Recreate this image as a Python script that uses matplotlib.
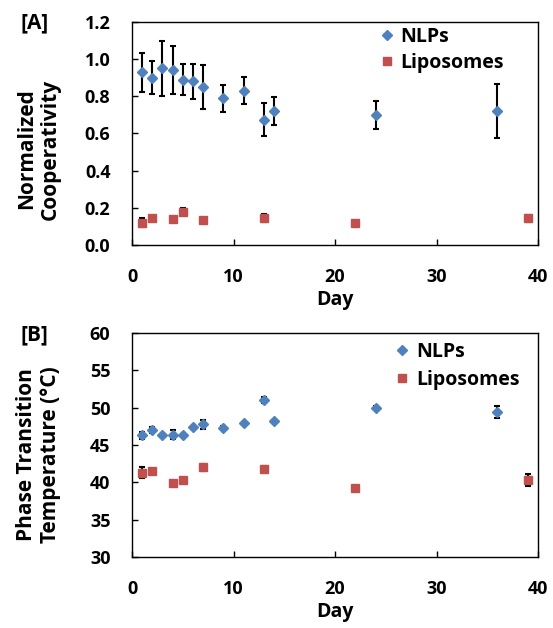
import numpy as np
import matplotlib
matplotlib.use('Agg')
import matplotlib.pyplot as plt
from matplotlib.ticker import FormatStrFormatter

plt.rcParams['font.family'] = ['Open Sans', 'DejaVu Sans']
plt.rcParams['font.weight'] = 'bold'

# panel A: normalized cooperativity
nlp_days_a = [1, 2, 3, 4, 5, 6, 7, 9, 11, 13, 14, 24, 36]
nlp_coop = [0.93, 0.90, 0.95, 0.94, 0.89, 0.88, 0.85, 0.79, 0.83, 0.675, 0.72, 0.70, 0.72]
nlp_coop_err = [0.105, 0.09, 0.15, 0.13, 0.085, 0.096, 0.117, 0.072, 0.072, 0.087, 0.074, 0.074, 0.144]
lip_days = [1, 2, 4, 5, 7, 13, 22, 39]
lip_coop = [0.12, 0.146, 0.138, 0.18, 0.134, 0.145, 0.118, 0.143]
lip_coop_err = [0.025, 0.01, 0.006, 0.02, 0.01, 0.02, 0.006, 0.02]

# panel B: phase transition temperature
nlp_days_b = [1, 2, 3, 4, 5, 6, 7, 9, 11, 13, 14, 24, 36]
nlp_temp = [46.3, 47.0, 46.3, 46.4, 46.3, 47.4, 47.8, 47.3, 47.9, 51.05, 48.2, 50.0, 49.45]
nlp_temp_err = [0.5, 0.4, 0.2, 0.6, 0.2, 0.2, 0.6, 0.2, 0.2, 0.4, 0.2, 0.2, 0.8]
lip_temp = [41.3, 41.55, 39.95, 40.25, 42.0, 41.75, 39.25, 40.3]
lip_temp_err = [0.7, 0.2, 0.2, 0.2, 0.5, 0.4, 0.3, 0.8]

blue = '#4F81BD'
red = '#C0504D'

fig = plt.figure(figsize=(5.53, 6.28), dpi=100)
axA = fig.add_axes([0.2387, 0.6099, 0.7342, 0.3551])
axB = fig.add_axes([0.2387, 0.1131, 0.7342, 0.3567])


def draw(ax, x1, y1, e1, x2, y2, e2, leg_pos, leg_sp):
    ax.errorbar(x1, y1, yerr=e1, fmt='D', color=blue, ms=5, mec=blue,
                ecolor='black', elinewidth=1.5, capsize=2, capthick=1.5, label='NLPs', zorder=3)
    ax.errorbar(x2, y2, yerr=e2, fmt='s', color=red, ms=6, mec=red,
                ecolor='black', elinewidth=1.5, capsize=2, capthick=1.5, label='Liposomes', zorder=3)
    ax.set_xlim(0, 40)
    ax.set_xticks([0, 10, 20, 30, 40])
    ax.tick_params(direction='in', length=4, width=1, labelsize=13)
    ax.tick_params(axis='y', pad=15.5)
    ax.tick_params(axis='x', pad=16.5)
    for s in ax.spines.values():
        s.set_linewidth(1.0)
    ax.set_xlabel('Day', fontsize=14, fontweight='bold', labelpad=3)
    handles, labels = ax.get_legend_handles_labels()
    handles = [h[0] for h in handles]
    ax.legend(handles, labels, loc='upper left', bbox_to_anchor=leg_pos, frameon=False,
              fontsize=14, handletextpad=0.3, handlelength=0.8, labelspacing=leg_sp,
              borderpad=0, borderaxespad=0)


draw(axA, nlp_days_a, nlp_coop, nlp_coop_err, lip_days, lip_coop, lip_coop_err, (0.608, 0.977), 0.3)
axA.set_ylim(0, 1.2)
axA.set_yticks(np.arange(0, 1.21, 0.2))
axA.yaxis.set_major_formatter(FormatStrFormatter('%.1f'))
axA.set_ylabel('Normalized\nCooperativity', fontsize=15, fontweight='bold', linespacing=1.2)
axA.yaxis.set_label_coords(-0.175, 0.43)

draw(axB, nlp_days_b, nlp_temp, nlp_temp_err, lip_days, lip_temp, lip_temp_err, (0.647, 0.96), 0.4)
axB.set_ylim(30, 60)
axB.set_yticks(range(30, 61, 5))
axB.set_ylabel('Phase Transition\nTemperature (°C)', fontsize=15, fontweight='bold', linespacing=1.2)
axB.yaxis.set_label_coords(-0.175, 0.455)

fig.text(0.063, 0.963, '[A]', fontsize=15, fontweight='bold', ha='center', va='center')
fig.text(0.063, 0.466, '[B]', fontsize=15, fontweight='bold', ha='center', va='center')

fig.savefig('out.png', dpi=100)
